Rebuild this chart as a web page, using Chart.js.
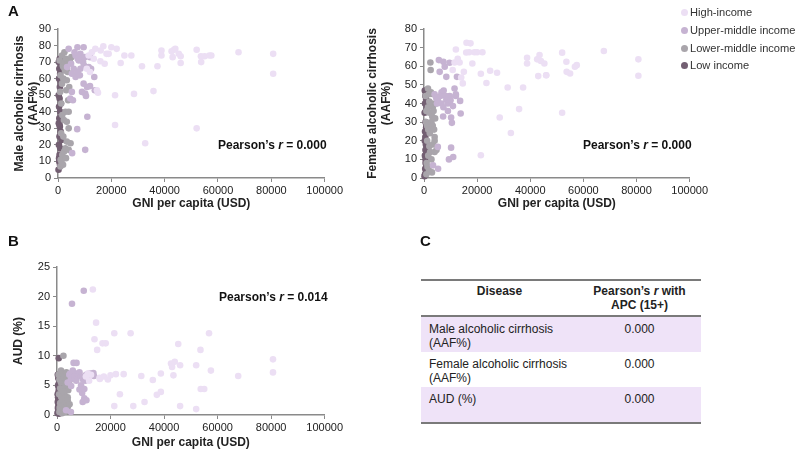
<!DOCTYPE html>
<html>
<head>
<meta charset="utf-8">
<script src="https://cdn.jsdelivr.net/npm/chart.js@4.4.1/dist/chart.umd.min.js"></script>
<style>
  body { margin: 0; background: #fff; font-family: "Liberation Sans", Arial, sans-serif; }
  #wrap { position: relative; width: 800px; height: 451px; overflow: hidden; }
  canvas { position: absolute; }
  .panel { position: absolute; font-weight: bold; font-size: 15px; color: #111; }
  .pearson { position: absolute; font-weight: bold; font-size: 12px; color: #111; white-space: nowrap; }
  .legend { position: absolute; left: 681px; top: 4px; font-size: 11.1px; color: #333; }
  .legend div { height: 17.8px; line-height: 17.8px; white-space: nowrap; }
  .legend span { display: inline-block; width: 7px; height: 7px; border-radius: 50%; margin-right: 2px; vertical-align: 0; }
  table { position: absolute; left: 421px; top: 279px; width: 280px; border-collapse: collapse; font-size: 12px; color: #222; }
  th, td { padding: 5px 8px 0 8px; vertical-align: top; height: 30px; }
  th { text-align: center; font-weight: bold; border-top: 2px solid #7a7a7a; border-bottom: 2px solid #7a7a7a; line-height: 14px; padding-top: 3px; height: 31px; }
  td.v { text-align: center; }
  tr.sh td { background: #efe3f8; }
  tr.last td { border-bottom: 2px solid #7a7a7a; }
</style>
</head>
<body>
<div id="wrap">
  <canvas id="maleChart" width="345" height="212" style="left:0;top:0"></canvas>
  <canvas id="femaleChart" width="345" height="212" style="left:365px;top:0"></canvas>
  <canvas id="audChart" width="345" height="211" style="left:0;top:240px"></canvas>

  <div class="panel" style="left:8px;top:2px">A</div>
  <div class="panel" style="left:8px;top:232px">B</div>
  <div class="panel" style="left:420px;top:232px">C</div>

  <div class="pearson" style="left:218px;top:138px">Pearson’s <i>r</i> = 0.000</div>
  <div class="pearson" style="left:583px;top:138px">Pearson’s <i>r</i> = 0.000</div>
  <div class="pearson" style="left:219px;top:290px">Pearson’s <i>r</i> = 0.014</div>

  <div class="legend" id="legend"></div>

  <table>
    <tr><th style="width:141px">Disease</th><th>Pearson’s <i>r</i> with<br>APC (15+)</th></tr>
    <tr class="sh"><td>Male alcoholic cirrhosis<br>(AAF%)</td><td class="v" id="r0"></td></tr>
    <tr><td>Female alcoholic cirrhosis<br>(AAF%)</td><td class="v" id="r1"></td></tr>
    <tr class="sh last"><td>AUD (%)</td><td class="v" id="r2"></td></tr>
  </table>
</div>

<script>
// income groups
const groups = ['High-income', 'Upper-middle income', 'Lower-middle income', 'Low income'];
const groupColors = ['#ecdff4', '#c6b3d2', '#a9a5ab', '#735f72'];

// High-income countries
const highGni    = [10800, 11500, 12000, 12700, 13400, 14000, 14600, 15000, 15900, 16000, 17000, 17500, 18200, 19000, 20000, 21400, 21400, 22000, 23500, 24900, 27500, 28500, 31500, 32700, 35800, 37300, 38800, 38800, 42600, 43000, 43500, 44000, 45300, 46000, 46000, 52000, 52000, 53600, 53700, 55000, 56800, 57500, 67700, 80700, 80700];
const highMale   = [66, 74, 64, 76, 72, 78, 53, 51.5, 70.5, 77, 79.6, 69, 75, 75, 79, 50, 32, 78, 69.5, 74, 74, 50.8, 67.5, 21, 52.5, 67.5, 77, 74, 76.5, 73, 77.5, 78, 75, 73.5, 69.5, 77.5, 30, 73.5, 70, 73.5, 74, 74, 76, 75, 63];
const highFemale = [58, 62, 69, 64, 62, 54, 50.8, 57, 67.4, 72.6, 67.5, 72.3, 61.5, 67.5, 67.5, 56, 12.2, 67.5, 51, 57.6, 56.5, 32.5, 48.6, 24.2, 37, 48.6, 64.6, 61.5, 63.7, 54.7, 66, 62.8, 61.5, 55.2, 55.2, 67.3, 35, 62.4, 57, 56.1, 59.7, 60.6, 68.2, 63.7, 54.9];
const highAud    = [6.5, 7.0, 5.8, 6.8, 21.2, 12.8, 15.6, 11, 6.3, 6.1, 12.1, 6.5, 12.1, 6.0, 6.7, 1.5, 13.8, 6.9, 3.5, 6.9, 13.8, 1.5, 6.6, 2.2, 5.9, 3.4, 7.0, 3.9, 8.7, 8.1, 6.7, 9.0, 12, 1.5, 8.4, 8.4, 1.0, 11, 4.4, 4.4, 13.8, 7.5, 6.6, 9.4, 7.2];

// Upper-middle income countries
const upperGni    = [3400, 4000, 4600, 4900, 5200, 5200, 5300, 5600, 5900, 6200, 6600, 6600, 7200, 7300, 7300, 7400, 7800, 8200, 8400, 8400, 9000, 9000, 9400, 9600, 9600, 9700, 10000, 10200, 10200, 10500, 10900, 11000, 11500, 12000, 12000, 12400, 13600, 13800];
const upperMale   = [67, 78, 48, 69, 63, 52, 15, 47, 66, 76, 74, 61, 29.5, 79, 64, 72, 71, 62, 75, 66, 72, 52, 70, 79, 57, 68, 73, 17, 51, 49.5, 55, 37, 67, 55.5, 73, 66, 61, 53];
const upperFemale = [6.8, 45, 43, 40, 16.7, 42, 5, 63.3, 57, 44, 46, 40, 33, 62.4, 38, 47, 59.7, 44, 54.3, 42, 40, 36, 10, 61.9, 41, 44, 41.8, 16.3, 32.5, 29.6, 38.6, 11.3, 48, 44, 45, 54.3, 41.4, 34.6];
const upperAud    = [0.8, 5.5, 6.8, 7, 0.5, 6, 4.9, 18.8, 7.5, 8.8, 6.5, 6.2, 5.8, 8.8, 7, 6.6, 6.9, 6.7, 4.3, 7.2, 6.5, 5, 3.7, 6.4, 2.2, 6, 21, 2.8, 4.4, 5.8, 6.8, 2.5, 6.9, 6.7, 6.8, 7, 7.1, 6.6];

// Lower-middle income countries
const lowerGni    = [600, 800, 900, 900, 1000, 1200, 1200, 1500, 1500, 1600, 1600, 1800, 1900, 2000, 2000, 2000, 2300, 2400, 2500, 2600, 2800, 2800, 3000, 3100, 3300, 3300, 3300, 3500, 3600, 3800, 4000, 4000, 4000, 4200, 4500, 4700, 5000, 1300, 2200, 3000];
const lowerMale   = [71, 52, 62, 7, 11, 27, 45, 74, 57, 38, 14, 68, 8, 67, 60, 25, 16, 76, 70, 65, 40, 18, 72, 53, 59, 34, 22, 69, 64, 47, 40, 30, 17, 55, 70, 21, 73, 10, 35, 12];
const lowerFemale = [44, 30, 36, 2, 8, 20, 28, 48, 38, 26, 12, 45, 4, 41, 35, 17, 14, 62, 58, 46, 30, 10, 40, 33, 38, 28, 18, 45, 36, 26, 22, 20, 14, 32, 40, 15, 43, 6, 24, 3];
const lowerAud    = [6.8, 3.5, 6, 0.5, 1.2, 2, 4.5, 7.5, 5.5, 3, 1, 6.5, 0.3, 7, 5.8, 2.5, 1.5, 10, 6.8, 6.3, 3.5, 1.8, 6.7, 4.8, 5.5, 3, 2.2, 7.2, 6, 4.5, 3, 2.5, 1.3, 4.2, 5.8, 1.8, 6.6, 0.8, 4, 0.5];

// Low income countries
const lowGni    = [200, 250, 300, 300, 350, 400, 400, 450, 500, 500, 550, 600, 600, 650, 700, 700, 750, 800, 800, 850, 900, 1000, 1000, 1100, 1200, 1300, 400, 600];
const lowMale   = [5, 50, 33, 70, 20, 43, 60, 10, 36, 66, 25, 48, 14, 72, 31, 55, 8, 40, 63, 18, 35, 28, 58, 45, 68, 23, 12, 32];
const lowFemale = [1, 35, 20, 47, 12, 25, 40, 5, 22, 44, 15, 30, 8, 46, 18, 36, 3, 27, 42, 11, 24, 19, 38, 29, 45, 14, 2, 10];
const lowAud    = [0.3, 3.5, 2.2, 6.8, 1.2, 3, 5, 0.5, 2.5, 6.2, 1.5, 4, 0.8, 9.6, 2, 4.5, 0.2, 2.8, 5.5, 1, 2.6, 1.8, 4.8, 3.4, 6.5, 1.4, 0.6, 2];

// table C
const tableR = ['0.000', '0.000', '0.000'];

const gniByGroup = [highGni, upperGni, lowerGni, lowGni];

function toPoints(xs, ys) {
  return xs.map((x, i) => ({ x: x, y: ys[i] }));
}

function makeDatasets(valuesByGroup) {
  return groups.map((g, k) => ({
    label: g,
    data: toPoints(gniByGroup[k], valuesByGroup[k]),
    backgroundColor: groupColors[k],
    borderWidth: 0,
    pointRadius: 3.3,
    order: k + 1,
    clip: false
  }));
}

const axisColor = '#8a8a8a';
const tickFont = { family: 'Liberation Sans', size: 11 };
const titleFont = { family: 'Liberation Sans', size: 12, weight: 'bold' };

function scatterOptions(yMax, yStep, yTitle, yTitlePad, yWidth, xHeight, pad) {
  return {
    responsive: false,
    animation: false,
    layout: { padding: pad },
    plugins: { legend: { display: false }, tooltip: { enabled: false } },
    scales: {
      x: {
        type: 'linear', min: 0, max: 100000,
        ticks: { stepSize: 20000, color: '#222', font: tickFont, maxRotation: 0, padding: 2, callback: v => String(v) },
        grid: { drawOnChartArea: false, drawTicks: true, tickLength: 4, color: axisColor },
        border: { color: axisColor, width: 1.5 },
        title: { display: true, text: 'GNI per capita (USD)', color: '#222', font: titleFont, padding: { top: 0, bottom: 1 } },
        afterFit: s => { s.height = xHeight; }
      },
      y: {
        min: 0, max: yMax,
        ticks: { stepSize: yStep, color: '#222', font: tickFont, padding: 3 },
        grid: { drawOnChartArea: false, drawTicks: true, tickLength: 4, color: axisColor },
        border: { color: axisColor, width: 1.5 },
        title: { display: true, text: yTitle, color: '#222', font: titleFont, padding: { top: yTitlePad, bottom: 0 } },
        afterFit: s => { s.width = yWidth; }
      }
    }
  };
}

new Chart(document.getElementById('maleChart'), {
  type: 'scatter',
  data: { datasets: makeDatasets([highMale, upperMale, lowerMale, lowMale]) },
  options: scatterOptions(90, 10, ['Male alcoholic cirrhosis', '(AAF%)'], 12, 58, 34, { top: 29, right: 18, left: 0, bottom: 0 })
});

new Chart(document.getElementById('femaleChart'), {
  type: 'scatter',
  data: { datasets: makeDatasets([highFemale, upperFemale, lowerFemale, lowFemale]) },
  options: scatterOptions(80, 10, ['Female alcoholic cirrhosis', '(AAF%)'], 0, 59, 34, { top: 29, right: 20, left: 0, bottom: 0 })
});

new Chart(document.getElementById('audChart'), {
  type: 'scatter',
  data: { datasets: makeDatasets([highAud, upperAud, lowerAud, lowAud]) },
  options: scatterOptions(25, 5, 'AUD (%)', 11, 57, 36, { top: 27, right: 18, left: 0, bottom: 0 })
});

// legend
document.getElementById('legend').innerHTML = groups.map((g, k) =>
  '<div><span style="background:' + groupColors[k] + '"></span>' + g + '</div>').join('');

tableR.forEach((r, i) => { document.getElementById('r' + i).textContent = r; });
</script>
</body>
</html>
